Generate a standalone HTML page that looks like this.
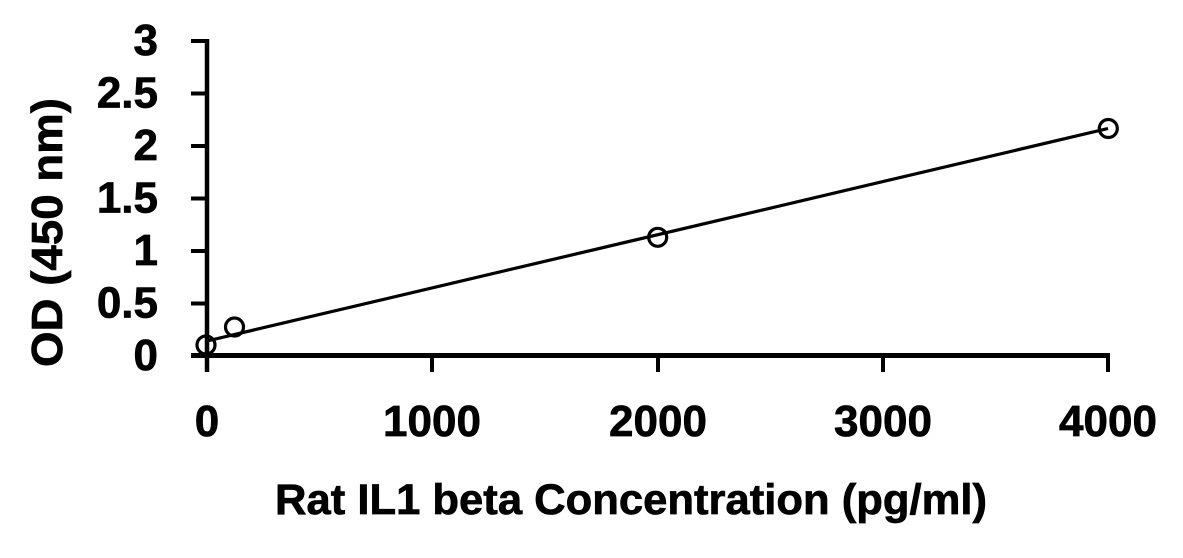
<!DOCTYPE html>
<html>
<head>
<meta charset="utf-8">
<style>
  html, body { margin: 0; padding: 0; background: #ffffff; }
  svg { display: block; }
  text { font-family: "Liberation Sans", "DejaVu Sans", sans-serif; font-weight: bold; fill: #000; stroke: #000; stroke-width: 0.7; }
</style>
</head>
<body>
<svg width="1183" height="558" viewBox="0 0 1183 558" xmlns="http://www.w3.org/2000/svg">
  <rect width="1183" height="558" fill="#ffffff"/>

  <!-- Axes -->
  <g stroke="#000" fill="none" stroke-linecap="butt">
    <line x1="207" y1="39" x2="207" y2="372" stroke-width="4.5"/>
    <line x1="191" y1="355.5" x2="1110" y2="355.5" stroke-width="5"/>
    <!-- y ticks -->
    <g stroke-width="4">
      <line x1="191" y1="41" x2="207" y2="41"/>
      <line x1="191" y1="93.5" x2="207" y2="93.5"/>
      <line x1="191" y1="146" x2="207" y2="146"/>
      <line x1="191" y1="198.5" x2="207" y2="198.5"/>
      <line x1="191" y1="251" x2="207" y2="251"/>
      <line x1="191" y1="303.5" x2="207" y2="303.5"/>
      <!-- x ticks -->
      <line x1="432" y1="356" x2="432" y2="372"/>
      <line x1="658" y1="356" x2="658" y2="372"/>
      <line x1="883" y1="356" x2="883" y2="372"/>
      <line x1="1108" y1="353" x2="1108" y2="372"/>
    </g>
  </g>

  <!-- Y tick labels -->
  <g font-size="44" text-anchor="end">
    <text x="158" y="55">3</text>
    <text x="158" y="107.5">2.5</text>
    <text x="158" y="160">2</text>
    <text x="158" y="212.5">1.5</text>
    <text x="158" y="265">1</text>
    <text x="158" y="317.5">0.5</text>
    <text x="158" y="370">0</text>
  </g>

  <!-- X tick labels -->
  <g font-size="44" text-anchor="middle">
    <text x="207" y="436">0</text>
    <text x="432" y="436">1000</text>
    <text x="658" y="436">2000</text>
    <text x="883" y="436">3000</text>
    <text x="1108" y="436">4000</text>
  </g>

  <!-- Axis titles -->
  <text x="275" y="514" font-size="43" textLength="712" lengthAdjust="spacingAndGlyphs">Rat IL1 beta Concentration (pg/ml)</text>
  <text transform="translate(62,367) rotate(-90)" x="0" y="0" font-size="44" textLength="269" lengthAdjust="spacingAndGlyphs">OD (450 nm)</text>

  <!-- Fit line -->
  <line x1="207" y1="341" x2="1108" y2="128.5" stroke="#000" stroke-width="3.2"/>

  <!-- Data points -->
  <g fill="none" stroke="#000" stroke-width="3.2">
    <circle cx="206" cy="345" r="9"/>
    <circle cx="234.5" cy="327" r="9"/>
    <circle cx="657.7" cy="237.3" r="9"/>
    <circle cx="1108.3" cy="128.5" r="9"/>
  </g>
</svg>
</body>
</html>
